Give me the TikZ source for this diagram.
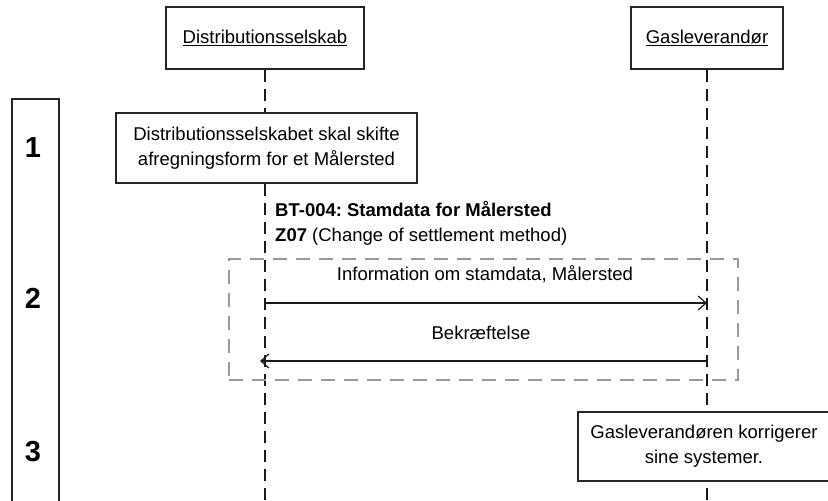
\documentclass[tikz,border=0pt]{standalone}
\usepackage{fontspec}
\setmainfont{Liberation Sans}
\usetikzlibrary{arrows.meta}
\frenchspacing
\begin{document}
\begin{tikzpicture}[x=1pt,y=-1pt,
  txt/.style={font=\fontsize{18.5}{25}\selectfont},
  box/.style={draw=black!85, line width=1.6pt, fill=white, txt, align=center, inner sep=0pt},
  life/.style={draw=black!90, line width=1.3pt, dash pattern=on 12pt off 7pt},
  grp/.style={draw=black!40, line width=2pt, dash pattern=on 14pt off 9pt},
  msg/.style={draw=black!90, line width=1.2pt, -{Straight Barb[length=8pt,width=14pt]}},
  num/.style={font=\fontsize{29}{34}\selectfont\bfseries, inner sep=0pt}
]
\useasboundingbox (0,0) rectangle (828,501);
\clip (0,0) rectangle (828,501);
\fill[white] (0,0) rectangle (828,501);

% participants
\node[box, minimum width=198, minimum height=62] (tA) at (265,38) {\underline{Distributionsselskab}};
\node[box, minimum width=152, minimum height=62] (tB) at (707,38) {\underline{Gasleverandør}};

% lifelines
\coordinate (endA) at (265,510);
\coordinate (endB) at (707,510);
\draw[life] (tA.south) -- (endA);
\draw[life] (tB.south) -- (endB);

% lane box with step numbers
\node[draw=black!85, line width=1.6pt, minimum width=47, minimum height=411, inner sep=0pt] (lane) at (35.5,304.5) {};
\node[num] (n1) at (33,148) {1};
\node[num] (n2) at (33,298) {2};
\node[num] (n3) at (33,452) {3};

% step 1
\node[box, minimum width=301, minimum height=70] (s1) at (266.5,148)
  {Distributionsselskabet skal skifte\\afregningsform for et Målersted};

% message label
\node[txt, anchor=north west, align=left, inner sep=0pt] (lbl) at (275,201)
  {\textbf{BT-004: Stamdata for Målersted}\\\textbf{Z07} (Change of settlement method)};

% group
\node[grp, minimum width=509, minimum height=121, inner sep=0pt] (grp) at (483.5,319.5) {};

% messages
\coordinate (a1) at (265,303);
\coordinate (b1) at (707,303);
\coordinate (a2) at (260,361);
\coordinate (b2) at (706,361);
\draw[msg] (a1) -- (b1);
\draw[msg] (b2) -- (a2);
\node[txt, inner sep=0pt] (m1) at (485,274) {Information om stamdata, Målersted};
\node[txt, inner sep=0pt] (m2) at (481,333) {Bekræftelse};

% step 3
\node[box, minimum width=252, minimum height=69] (s3) at (704,446.5)
  {Gasleverandøren korrigerer\\sine systemer.};
\end{tikzpicture}
\end{document}
